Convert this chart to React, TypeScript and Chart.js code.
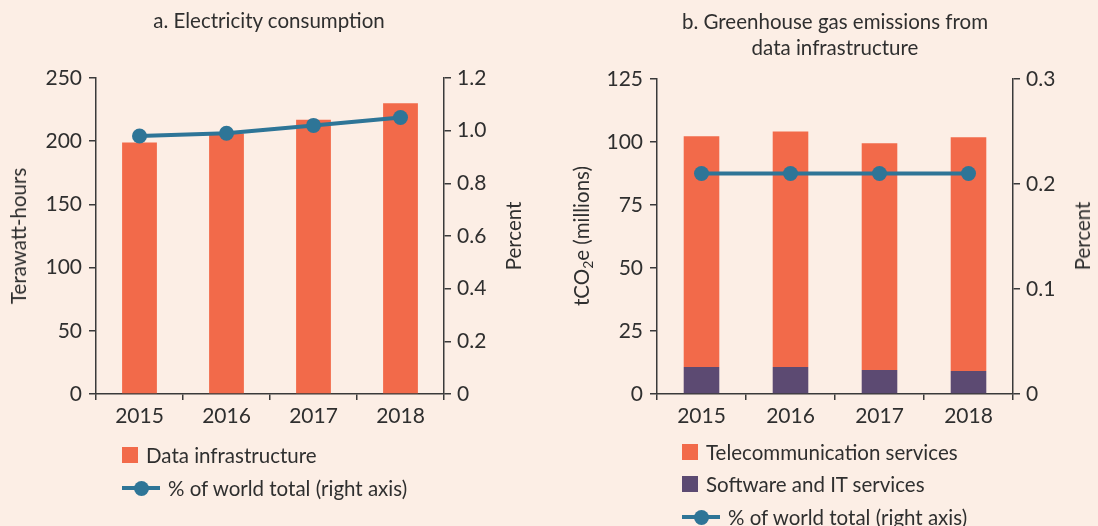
import React, { useEffect, useRef } from "react";
import { Chart, registerables } from "chart.js";

Chart.register(...registerables);

// ---------- data ----------
const years = ["2015", "2016", "2017", "2018"];

// Panel a
const electricityTWh = [199, 206, 217, 230];
const electricityPctWorld = [0.98, 0.99, 1.02, 1.05];
const twhTicks = [0, 50, 100, 150, 200, 250];
const elecPctTicks = [0, 0.2, 0.4, 0.6, 0.8, 1.0, 1.2];

// Panel b
const telecomMt = [91.6, 93.5, 90.0, 92.8];
const softwareMt = [10.7, 10.7, 9.5, 9.1];
const ghgPctWorld = [0.21, 0.21, 0.21, 0.21];
const co2Ticks = [0, 25, 50, 75, 100, 125];
const ghgPctTicks = [0, 0.1, 0.2, 0.3];

// ---------- style ----------
const BG = "#FCEEE5";
const ORANGE = "#F26A4A";
const PURPLE = "#5C4A72";
const BLUE = "#2E7597";
const INK = "#2f2f2f";
const AXIS = "#3a3a3a";
const FONT = "Lato, 'Noto Sans', sans-serif";
const FS = 20.5;
const TFS = 21;

const pctLabel = (v: number) => (v === 0 ? "0" : v.toFixed(1));

function yScale(
  position: "left" | "right",
  tickValues: number[],
  width: number,
  fmt: (v: number) => string
) {
  return {
    position,
    min: tickValues[0],
    max: tickValues[tickValues.length - 1],
    afterBuildTicks: (s: any) => {
      s.ticks = tickValues.map((v) => ({ value: v }));
    },
    afterFit: (s: any) => {
      s.width = width;
    },
    ticks: {
      font: { family: FONT, size: TFS },
      color: INK,
      padding: position === "left" ? 7 : 6,
      callback: (v: any) => fmt(Number(v)),
    },
    grid: {
      drawOnChartArea: false,
      drawTicks: true,
      tickLength: 7,
      color: AXIS,
      lineWidth: 1.5,
    },
    border: { display: true, color: AXIS, width: 1.5 },
  };
}

function xScale(stacked: boolean) {
  return {
    stacked,
    offset: true,
    afterFit: (s: any) => {
      s.height = 40;
    },
    ticks: { font: { family: FONT, size: TFS }, color: INK, padding: 4 },
    grid: {
      offset: true,
      drawOnChartArea: false,
      drawTicks: true,
      tickLength: 6,
      color: AXIS,
      lineWidth: 1.5,
    },
    border: { display: true, color: AXIS, width: 1.5 },
  };
}

function lineDataset(data: number[]) {
  return {
    type: "line" as const,
    label: "% of world total (right axis)",
    data,
    yAxisID: "y1",
    borderColor: BLUE,
    backgroundColor: BLUE,
    borderWidth: 4,
    pointRadius: 7.5,
    pointBackgroundColor: BLUE,
    pointBorderColor: BLUE,
    pointBorderWidth: 0,
    order: 0,
  };
}

function ChartA() {
  const ref = useRef<HTMLCanvasElement>(null);
  useEffect(() => {
    const chart = new Chart(ref.current as HTMLCanvasElement, {
      type: "bar",
      data: {
        labels: years,
        datasets: [
          lineDataset(electricityPctWorld) as any,
          {
            type: "bar",
            label: "Data infrastructure",
            data: electricityTWh,
            yAxisID: "y",
            backgroundColor: ORANGE,
            barPercentage: 0.4,
            categoryPercentage: 1,
            order: 1,
          },
        ],
      },
      options: {
        responsive: false,
        animation: false,
        layout: { padding: { top: 78, bottom: 92, left: 0, right: 0 } },
        plugins: { legend: { display: false }, tooltip: { enabled: false } },
        scales: {
          x: xScale(false) as any,
          y: yScale("left", twhTicks, 96, (v) => String(v)) as any,
          y1: yScale("right", elecPctTicks, 105, pctLabel) as any,
        },
      },
    });
    return () => chart.destroy();
  }, []);
  return (
    <canvas
      ref={ref}
      width={549}
      height={526}
      style={{ position: "absolute", left: 0, top: 0, width: 549, height: 526 }}
    />
  );
}

function ChartB() {
  const ref = useRef<HTMLCanvasElement>(null);
  useEffect(() => {
    const chart = new Chart(ref.current as HTMLCanvasElement, {
      type: "bar",
      data: {
        labels: years,
        datasets: [
          lineDataset(ghgPctWorld) as any,
          {
            type: "bar",
            label: "Software and IT services",
            data: softwareMt,
            yAxisID: "y",
            backgroundColor: PURPLE,
            barPercentage: 0.4,
            categoryPercentage: 1,
            stack: "s",
            order: 1,
          },
          {
            type: "bar",
            label: "Telecommunication services",
            data: telecomMt,
            yAxisID: "y",
            backgroundColor: ORANGE,
            barPercentage: 0.4,
            categoryPercentage: 1,
            stack: "s",
            order: 1,
          },
        ],
      },
      options: {
        responsive: false,
        animation: false,
        layout: { padding: { top: 79, bottom: 92, left: 0, right: 0 } },
        plugins: { legend: { display: false }, tooltip: { enabled: false } },
        scales: {
          x: xScale(true) as any,
          y: { ...(yScale("left", co2Ticks, 108, (v) => String(v)) as any), stacked: true },
          y1: { ...(yScale("right", ghgPctTicks, 85, pctLabel) as any), stacked: false },
        },
      },
    });
    return () => chart.destroy();
  }, []);
  return (
    <canvas
      ref={ref}
      width={549}
      height={526}
      style={{ position: "absolute", left: 549, top: 0, width: 549, height: 526 }}
    />
  );
}

const textStyle: React.CSSProperties = {
  fontFamily: FONT,
  fontSize: FS,
  color: INK,
  whiteSpace: "nowrap",
  lineHeight: "26px",
};

function VTitle({ cx, cy, children }: { cx: number; cy: number; children: React.ReactNode }) {
  return (
    <div
      style={{
        ...textStyle,
        position: "absolute",
        left: cx,
        top: cy,
        transform: "translate(-50%, -50%) rotate(-90deg)",
      }}
    >
      {children}
    </div>
  );
}

function Title({ cx, top, lines }: { cx: number; top: number; lines: string[] }) {
  return (
    <div
      style={{
        ...textStyle,
        position: "absolute",
        left: cx,
        top,
        transform: "translateX(-50%)",
        textAlign: "center",
      }}
    >
      {lines.map((l, i) => (
        <div key={i}>{l}</div>
      ))}
    </div>
  );
}

function BoxItem({ x, cy, color, label }: { x: number; cy: number; color: string; label: string }) {
  return (
    <div
      style={{
        ...textStyle,
        position: "absolute",
        left: x,
        top: cy - 13,
        height: 26,
        display: "flex",
        alignItems: "center",
      }}
    >
      <div style={{ width: 16, height: 16, background: color, marginRight: 8 }} />
      <span>{label}</span>
    </div>
  );
}

function LineItem({ x, cy, label }: { x: number; cy: number; label: string }) {
  return (
    <div
      style={{
        ...textStyle,
        position: "absolute",
        left: x,
        top: cy - 13,
        height: 26,
        display: "flex",
        alignItems: "center",
      }}
    >
      <div style={{ position: "relative", width: 38, height: 26, marginRight: 8 }}>
        <div
          style={{ position: "absolute", left: 0, top: 11, width: 38, height: 4, background: BLUE }}
        />
        <div
          style={{
            position: "absolute",
            left: 19 - 7.5,
            top: 13 - 7.5,
            width: 15,
            height: 15,
            borderRadius: "50%",
            background: BLUE,
          }}
        />
      </div>
      <span>{label}</span>
    </div>
  );
}

export default function App() {
  useEffect(() => {
    document.body.style.margin = "0";
    document.body.style.background = BG;
  }, []);
  return (
    <div
      style={{
        position: "fixed",
        left: 0,
        top: 0,
        width: 1098,
        height: 526,
        background: BG,
        overflow: "hidden",
      }}
    >
      <ChartA />
      <ChartB />
      <Title cx={269} top={7} lines={["a. Electricity consumption"]} />
      <Title cx={835} top={8} lines={["b. Greenhouse gas emissions from", "data infrastructure"]} />
      <VTitle cx={18} cy={236}>Terawatt-hours</VTitle>
      <VTitle cx={513} cy={236}>Percent</VTitle>
      <VTitle cx={581} cy={236}>
        tCO<sub style={{ fontSize: 14, verticalAlign: "-4px", lineHeight: 0 }}>2</sub>e (millions)
      </VTitle>
      <VTitle cx={1082} cy={236}>Percent</VTitle>
      <BoxItem x={122} cy={455} color={ORANGE} label="Data infrastructure" />
      <LineItem x={122} cy={488} label="% of world total (right axis)" />
      <BoxItem x={682} cy={452} color={ORANGE} label="Telecommunication services" />
      <BoxItem x={682} cy={484} color={PURPLE} label="Software and IT services" />
      <LineItem x={682} cy={517} label="% of world total (right axis)" />
    </div>
  );
}
